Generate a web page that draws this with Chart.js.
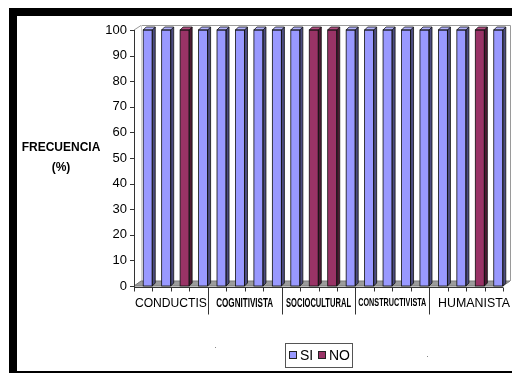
<!DOCTYPE html>
<html>
<head>
<meta charset="utf-8">
<script src="https://cdn.jsdelivr.net/npm/chart.js@4/dist/chart.umd.min.js"></script>
<style>
  html, body { margin: 0; padding: 0; background: #fff; }
  #wrap { width: 512px; height: 375px; position: relative; }
</style>
</head>
<body>
<div id="wrap"><canvas id="c" width="512" height="375"></canvas></div>
<script>
// Question groups (four questions each) and the answer percentages per question
const groups = ['CONDUCTIS', 'COGNITIVISTA', 'SOCIOCULTURAL', 'CONSTRUCTIVISTA', 'HUMANISTA'];
const categories = [
  'C1', 'C2', 'C3', 'C4',
  'G1', 'G2', 'G3', 'G4',
  'S1', 'S2', 'S3', 'S4',
  'K1', 'K2', 'K3', 'K4',
  'H1', 'H2', 'H3', 'H4'
];
const siValues = [100, 100, 0, 100, 100, 100, 100, 100, 100, 0, 0, 100, 100, 100, 100, 100, 100, 100, 0, 100];
const noValues = [0, 0, 100, 0, 0, 0, 0, 0, 0, 100, 100, 0, 0, 0, 0, 0, 0, 0, 100, 0];
const yTicks = [0, 10, 20, 30, 40, 50, 60, 70, 80, 90, 100];
const legendLabels = ['SI', 'NO'];
const axisTitle = ['FRECUENCIA', '(%)'];

const colors = {
  si:  { front: '#9999FF', side: '#4C4C80', top: '#B3B3FF' },
  no:  { front: '#993366', side: '#4C1933', top: '#B34D80' }
};

// Group label styling (regular for the outer two, bold condensed inside)
const groupFonts = [
  { font: '13.5px "Liberation Sans", Arial, sans-serif', width: 72 },
  { font: 'bold 13.5px "Liberation Sans Narrow", "Liberation Sans", Arial, sans-serif', width: 57 },
  { font: 'bold 13.5px "Liberation Sans Narrow", "Liberation Sans", Arial, sans-serif', width: 65 },
  { font: 'bold 10.5px "Liberation Sans Narrow", "Liberation Sans", Arial, sans-serif', width: 68 },
  { font: '13.5px "Liberation Sans", Arial, sans-serif', width: 72 }
];

const DEPTH = 3;        // bar depth offset
const WALL_DX = 7, WALL_DY = 5;
const AXIS_SHIFT = 4.5; // front axis plane sits left of the bar faces

const framePlugin = {
  id: 'frame',
  beforeDraw(chart) {
    const ctx = chart.ctx;
    const a = chart.chartArea;
    ctx.save();
    ctx.fillStyle = '#fff';
    ctx.fillRect(0, 0, chart.width, chart.height);
    // outer frame
    ctx.fillStyle = '#000';
    ctx.fillRect(9, 8, 503, 8);
    ctx.fillRect(9, 8, 8, 365);
    ctx.fillRect(9, 371, 503, 2);

    const fl = a.left - AXIS_SHIFT, fr = a.right - AXIS_SHIFT;
    const top = chart.scales.y.getPixelForValue(100), bot = chart.scales.y.getPixelForValue(0);
    // back wall outline
    ctx.strokeStyle = '#9a9a9a';
    ctx.lineWidth = 1;
    ctx.beginPath();
    ctx.moveTo(fl, top);
    ctx.lineTo(fl + WALL_DX, top - WALL_DY + 0.5);
    ctx.lineTo(fr + WALL_DX + 0.5, top - WALL_DY + 0.5);
    ctx.lineTo(fr + WALL_DX + 0.5, bot - WALL_DY);
    ctx.stroke();
    ctx.strokeStyle = '#d0d0d0';
    ctx.beginPath();
    ctx.moveTo(fl + WALL_DX + 0.5, top - WALL_DY);
    ctx.lineTo(fl + WALL_DX + 0.5, bot - WALL_DY);
    ctx.stroke();
    // floor
    ctx.fillStyle = '#9c9c9c';
    ctx.strokeStyle = '#7a7a7a';
    ctx.beginPath();
    ctx.moveTo(fl, bot);
    ctx.lineTo(fl + WALL_DX, bot - WALL_DY);
    ctx.lineTo(fr + WALL_DX, bot - WALL_DY);
    ctx.lineTo(fr, bot);
    ctx.closePath();
    ctx.fill();
    ctx.stroke();
    ctx.restore();
  },
  afterDatasetsDraw(chart) {
    const ctx = chart.ctx;
    const keys = ['si', 'no'];
    ctx.save();
    chart.data.datasets.forEach((ds, di) => {
      const meta = chart.getDatasetMeta(di);
      const c = colors[keys[di]];
      meta.data.forEach((bar, i) => {
        if (!ds.data[i]) return;
        const p = bar.getProps(['x', 'y', 'base', 'width'], true);
        const l = p.x - p.width / 2, r = p.x + p.width / 2;
        const t = p.y, b = p.base;
        ctx.lineWidth = 0.8;
        ctx.strokeStyle = '#111';
        // side face
        ctx.fillStyle = c.side;
        ctx.beginPath();
        ctx.moveTo(r, t); ctx.lineTo(r + DEPTH, t - DEPTH);
        ctx.lineTo(r + DEPTH, b - DEPTH); ctx.lineTo(r, b);
        ctx.closePath(); ctx.fill(); ctx.stroke();
        // top face
        ctx.fillStyle = c.top;
        ctx.beginPath();
        ctx.moveTo(l, t); ctx.lineTo(l + DEPTH, t - DEPTH);
        ctx.lineTo(r + DEPTH, t - DEPTH); ctx.lineTo(r, t);
        ctx.closePath(); ctx.fill(); ctx.stroke();
        // front outline
        ctx.strokeRect(l, t, r - l, b - t);
      });
    });
    ctx.restore();
  },
  afterDraw(chart) {
    const ctx = chart.ctx;
    const a = chart.chartArea;
    const xs = chart.scales.x, ys = chart.scales.y;
    const step = (a.right - a.left) / categories.length;
    const fl = a.left - AXIS_SHIFT;
    const top = ys.getPixelForValue(100), bot = ys.getPixelForValue(0);
    ctx.save();
    ctx.strokeStyle = '#333';
    ctx.lineWidth = 1;
    // value axis line and ticks
    ctx.beginPath();
    ctx.moveTo(fl + 0.5, top); ctx.lineTo(fl + 0.5, bot + 2);
    yTicks.forEach(v => {
      const y = Math.round(ys.getPixelForValue(v)) + 0.5;
      ctx.moveTo(fl - 4, y); ctx.lineTo(fl + 0.5, y);
    });
    ctx.stroke();
    // category axis line with ticks and group dividers
    const ay = Math.round(bot) + 1.5;
    ctx.beginPath();
    ctx.moveTo(fl, ay); ctx.lineTo(fl + step * categories.length, ay);
    for (let i = 0; i <= categories.length; i++) {
      const x = Math.round(xs.getPixelForValue(i) - step / 2 - AXIS_SHIFT) + 0.5;
      const isGroupEdge = i % 4 === 0 && i > 0 && i < categories.length;
      ctx.moveTo(x, ay); ctx.lineTo(x, ay + (isGroupEdge ? 27 : 4));
    }
    ctx.stroke();
    // group labels
    ctx.fillStyle = '#000';
    ctx.textBaseline = 'middle';
    ctx.textAlign = 'center';
    groups.forEach((g, gi) => {
      const cx = (xs.getPixelForValue(gi * 4) + xs.getPixelForValue(gi * 4 + 3)) / 2 - AXIS_SHIFT;
      const f = groupFonts[gi];
      ctx.font = f.font;
      const w = ctx.measureText(g).width;
      const s = f.width / w;
      ctx.save();
      ctx.translate(cx + (gi === 4 ? 8 : 0), ay + 16);
      ctx.scale(s, 1);
      ctx.fillText(g, 0, 0);
      ctx.restore();
    });
    // axis title
    ctx.font = 'bold 12px "Liberation Sans", Arial, sans-serif';
    ctx.fillText(axisTitle[0], 61, 148);
    ctx.fillText(axisTitle[1], 61, 168);

    // legend
    const lx = 285, ly = 343, lw = 67, lh = 24;
    ctx.strokeStyle = '#555';
    ctx.strokeRect(lx + 0.5, ly + 0.5, lw, lh);
    ctx.font = '14px "Liberation Sans Narrow", "Liberation Sans", Arial, sans-serif';
    ctx.textAlign = 'left';
    const items = [
      { label: legendLabels[0], color: colors.si.front, x: lx + 4 },
      { label: legendLabels[1], color: colors.no.front, x: lx + 33 }
    ];
    items.forEach(it => {
      ctx.fillStyle = it.color;
      ctx.fillRect(it.x + 0.5, ly + 8.5, 7, 7);
      ctx.strokeStyle = '#222';
      ctx.strokeRect(it.x + 0.5, ly + 8.5, 7, 7);
      ctx.fillStyle = '#000';
      ctx.fillText(it.label, it.x + 11, ly + 13);
    });
    // stray marks
    ctx.fillStyle = '#888';
    ctx.fillRect(215, 347, 1, 1);
    ctx.fillRect(427, 356, 1, 1);
    ctx.restore();
  }
};

new Chart(document.getElementById('c'), {
  type: 'bar',
  data: {
    labels: categories,
    datasets: [
      { label: legendLabels[0], data: siValues, backgroundColor: colors.si.front, borderWidth: 0 },
      { label: legendLabels[1], data: noValues, backgroundColor: colors.no.front, borderWidth: 0 }
    ]
  },
  options: {
    responsive: false,
    animation: false,
    events: [],
    layout: { padding: { left: 0, right: 4.5, top: 30, bottom: 89 } },
    datasets: { bar: { categoryPercentage: 1, barPercentage: 0.49 } },
    plugins: { legend: { display: false }, tooltip: { enabled: false } },
    scales: {
      x: { stacked: true, display: false },
      y: {
        stacked: true,
        min: 0, max: 100,
        afterFit(scale) { scale.width = 138.5; },
        afterBuildTicks(scale) { scale.ticks = yTicks.map(v => ({ value: v })); },
        grid: { display: false, drawTicks: false },
        border: { display: false },
        ticks: {
          padding: 11.5,
          color: '#000',
          font: { family: '"Liberation Sans", Arial, sans-serif', size: 13 }
        }
      }
    }
  },
  plugins: [framePlugin]
});
</script>
</body>
</html>
